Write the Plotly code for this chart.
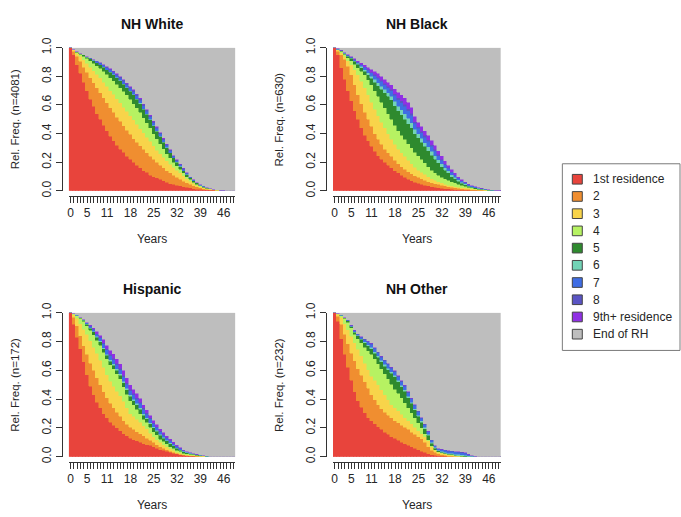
import plotly.graph_objects as go

W, H = 681, 517

# ---------------- data ----------------
years = list(range(50))
x_tick_labels = [0, 5, 11, 18, 25, 32, 39, 46]
y_ticks = [0.0, 0.2, 0.4, 0.6, 0.8, 1.0]

state_names = ["1st residence", "2", "3", "4", "5", "6", "7", "8",
               "9th+ residence", "End of RH"]
state_colors = ["#E8443C", "#F08E30", "#F8D44A", "#B6F262", "#2E8A2E",
                "#72D3B6", "#3F6DE4", "#5A54C4", "#9030E4", "#BEBEBE"]

panel_titles = ["NH White", "NH Black", "Hispanic", "NH Other"]
panel_n = [4081, 630, 172, 232]

# Cumulative upper edge (in %) of each state layer, states 1..9, per year.
white_1 = [100,95,88,82,76,70,64,59,54,50, 46,42,38,35,32,29,27,24,22,20, 18,16,14,13,11,10,9,8,7,6, 5,4.5,4,3.5,3,2.5,2,1.5,1.2,1, 0.8,0.6,0.4,0.3,0.2,0.1,0,0,0,0]
white_2 = [100,97.5,94,90.5,86.5,83,79,75.5,72,68.5, 65,61.5,58,55,51.5,48.5,45.5,42.5,39.5,36.5, 34,31.5,29,26.5,24,22,20,18,16,14, 12.5,11,9.5,8,6.8,5.5,4.5,3.6,2.8,2.1, 1.6,1.2,0.8,0.6,0.4,0.2,0.1,0,0,0]
white_3 = [100,98.5,96,94,91.5,89,86.5,84,81.5,79, 76,73,70,67.5,64.5,61.5,58.5,55.5,52.5,49.5, 46.5,43.5,40.5,37.5,34.5,31.5,28.5,26,23.5,21, 18.5,16.5,14.5,12.5,10.5,8.5,6.8,5.3,4,3, 2.2,1.6,1.1,0.8,0.5,0.3,0.2,0.1,0,0]
white_4 = [100,99,97,95.5,94,92.5,91,89,87.5,85.5, 83.5,81.5,79,77,74.5,72,69.5,67,64,61, 58,55,51,47.5,44,40,36.5,33,29.5,26, 23,20,17.5,15,12.5,10,8,6,4.7,3.5, 2.6,1.9,1.3,0.9,0.6,0.3,0.2,0.1,0,0]
white_5 = [100,99,97.5,96,95,93.5,92.5,91,89.5,88, 86.5,84.5,83,81,79,77,74.5,72,69.5,67, 64,61,57,53.5,49.5,45.5,41.5,38,34,30, 26.5,23,20,17,14,11.5,9,7,5.5,4, 3,2.2,1.5,1,0.7,0.4,0.2,0.1,0,0]
white_6 = [100,99,97.5,96,95,93.55,92.55,91.1,89.65,88.2, 86.7,84.75,83.25,81.3,79.3,77.3,74.85,72.35,69.85,67.4, 64.4,61.4,57.4,53.85,49.85,45.85,41.85,38.3,34.3,30.3, 26.75,23.2,20.2,17.2,14.2,11.65,9.1,7.1,5.55,4.05, 3.05,2.23,1.53,1.02,0.71,0.41,0.21,0.11,0.01,0]
white_7 = [100,99,97.5,96,95,93.8,92.8,91.6,90.4,89.2, 87.7,86,84.5,82.8,80.8,78.8,76.6,74.1,71.6,69.4, 66.4,63.4,59.4,55.6,51.6,47.6,43.6,39.8,35.8,31.8, 28,24.2,21.2,18.2,15.2,12.4,9.6,7.6,5.8,4.3, 3.3,2.38,1.68,1.12,0.76,0.46,0.26,0.16,0.06,0]
white_8 = [100,99,97.5,96,95,93.9,92.9,91.85,90.8,89.7, 88.2,86.6,85.1,83.55,81.55,79.55,77.5,75,72.5,70.4, 67.4,64.4,60.4,56.5,52.5,48.5,44.5,40.55,36.55,32.55, 28.6,24.7,21.7,18.7,15.7,12.8,9.85,7.85,5.9,4.4, 3.4,2.45,1.75,1.17,0.79,0.49,0.29,0.19,0.09,0]
white_9 = [100,99,97.5,96,95,94,93,92,91,90, 88.5,87,85.5,84,82,80,78,75.5,73,71, 68,65,61,57,53,49,45,41,37,33, 29,25,22,19,16,13,10,8,6,4.5, 3.5,2.5,1.8,1.2,0.8,0.5,0.3,0.2,0.1,0]

black_1 = [100,95,86,78,70,63,56,50,44,39, 35,31,27.5,24.5,22,20,18,16,14,12.5, 11,9.5,8,7,6,5.2,4.5,4,3.5,3, 2.6,2.2,1.9,1.6,1.3,1.1,0.9,0.7,0.5,0.4, 0.3,0.2,0.1,0,0,0,0,0,0,0]
black_2 = [100,97.5,95,92,87,81,74,67,61,55, 50,45,40,36,32.5,29,26.5,24,21.5,19, 17,15,13.5,12,10.5,9.5,8.5,7.5,6.5,5.5, 5,4.5,4,3.5,3,2.6,2.2,1.8,1.5,1.2, 1,0.8,0.6,0.4,0.3,0.2,0.1,0,0,0]
black_3 = [100,98.5,96.5,94,91,88,84.5,81,76.5,72, 67,62,57,52.5,48,44,40,36,32.5,29, 26.5,24,21.5,19,16.5,14.5,13,11.5,10,8.5, 7.5,6.5,5.5,4.7,4,3.5,3,2.6,2.3,2, 1.7,1.4,1.1,0.8,0.6,0.4,0.25,0.1,0,0]
black_4 = [100,99,97.5,95.5,93,91,88.5,86,83.5,81, 77.5,74,70,66,62,58,54,50,46,42, 39,36,33,30,27,24.5,22,19.5,17,14.5, 12.5,11,9.5,8.5,7.5,6.5,5.5,4.7,3.9,3.2, 2.6,2.1,1.6,1.2,0.9,0.6,0.4,0.2,0.1,0]
black_5 = [100,99,97.8,96,94,92.5,90.5,88.5,86,83.5, 81,78.5,76,73.5,71,68.5,66,63.5,59.5,56, 53,50,47,44,40,37,34,31,28,25, 22,19.5,17,14.5,12.5,10,8.3,6.8,5.3,4.2, 3.3,2.6,2,1.5,1.1,0.8,0.5,0.3,0.15,0.05]
black_6 = [100,99.1,98,96.2,94.4,92.9,91,89.1,86.9,84.6, 82.4,80.1,77.9,75.6,73.2,70.9,68.5,66.1,62.5,59.25, 56.5,53.75,50.75,47.6,43,39.75,36.75,33.75,30.75,27.6, 24.5,21.6,18.9,16.1,13.9,11.25,9.35,7.6,6,4.8, 3.7,2.95,2.3,1.75,1.3,0.95,0.65,0.4,0.25,0.1]
black_7 = [100,99.3,98.2,96.6,94.9,93.4,91.7,90,88.1,86.2, 84.3,82.4,80.5,78.6,76.4,74.2,72,69.8,66.7,63.8, 61.4,59,56,52.7,47.2,43.6,40.6,37.6,34.6,31.3, 28,24.6,21.5,18.4,15.8,13,10.8,8.7,6.9,5.6, 4.3,3.45,2.7,2.1,1.6,1.2,0.85,0.6,0.35,0.2]
black_8 = [100,99.35,98.3,96.7,95.1,93.6,91.9,90.2,88.5,86.7, 84.8,83,81.3,79.5,77.3,75.2,73,70.9,67.9,65.1, 62.8,60.5,57.5,54.2,48.4,44.7,41.7,38.7,35.7,32.35, 29,25.45,22.25,19.05,16.35,13.5,11.25,9.05,7.2,5.85, 4.5,3.6,2.85,2.2,1.7,1.3,0.9,0.65,0.4,0.22]
black_9 = [100,99.5,98.5,97,95.5,94,92.5,91,89.5,88, 86.5,85,83.5,82,80,78,76,74,71.5,69, 67,65,62,58.5,52,48,45,42,39,35.5, 32,28,24.5,21,18,15,12.5,10,8,6.5, 5,4,3.2,2.5,2,1.5,1.1,0.8,0.5,0.3]

hisp_1 = [100,92,83,75,66,57,49,43,38,34, 30,27,24,22,20,18,16,14.5,13,12, 11,10,9,8.5,8,7,6,5,4.5,4, 3,2.5,2,1.5,1,0.7,0.5,0.3,0.2,0.1, 0,0,0,0,0,0,0,0,0,0]
hisp_2 = [100,97,91,84,77,71,65,60,55,50, 45,41,37,34,31,28,25,22.5,20.5,19, 17.5,16,14.5,13,11.5,10,8.5,7,6,5, 4,3.2,2.5,1.9,1.4,1,0.8,0.6,0.4,0.3, 0.2,0.1,0,0,0,0,0,0,0,0]
hisp_3 = [100,98.5,96,92.5,88.5,85,80.5,76,72,67, 62,57,52.5,49,45.5,42.5,38.5,34,30,28, 26,24,21.5,19.5,16.5,14,12,10,8.5,7, 5.5,4.5,3.3,2.6,1.9,1.5,1.2,1,0.7,0.5, 0.4,0.2,0,0,0,0,0,0,0,0]
hisp_4 = [100,99.5,98,96,94,91,87.8,84.7,81,77.4, 72.6,67.9,63.9,61.2,57.5,54,48.5,43.5,39,36, 33,30,26,23.9,20.5,17.5,15.2,12.3,10.9,9, 7.1,6.1,4.5,3.7,2.6,2.1,1.6,1.3,1,0.7, 0.6,0.3,0,0,0,0,0,0,0,0]
hisp_5 = [100,99.5,98.3,96.5,94.7,92,89.3,86.7,83,79.9, 75.1,70.4,66.4,63.7,60,56.5,51.5,46.5,42,39, 36,33,29,26.4,23,20,17.7,14.8,12.9,11, 9.1,7.6,6,4.7,3.6,2.9,2.2,1.8,1.4,1.1, 0.9,0.5,0,0,0,0,0,0,0,0]
hisp_6 = [100,99.5,98.3,96.7,95,92.3,89.7,87.2,83.5,80.5, 75.8,71.2,67.2,64.5,61,57.5,52.5,47.5,43,40, 37,34,30,27.2,23.8,20.8,18.4,15.5,13.5,11.5, 9.6,8,6.4,5,3.9,3.1,2.4,2,1.6,1.2, 1,0.5,0,0,0,0,0,0,0,0]
hisp_7 = [100,99.5,98.5,97,95.5,93,90.7,88.4,85,82.5, 78.3,74.2,70.2,67.5,64,60.5,55.5,50.5,46,43, 40,37,33,29.7,26.3,22.8,20.4,17.5,15,13, 11.1,9.2,7.4,5.8,4.5,3.5,2.7,2.2,1.8,1.3, 1.1,0.6,0,0,0,0,0,0,0,0]
hisp_8 = [100,99.5,98.5,97,95.5,93.2,91,88.7,85.5,83, 79,75,71,68.5,65,61.5,56.5,51.5,47,44, 41,38,34,30.5,27,23.5,21,18,15.5,13.5, 11.5,9.5,7.7,6,4.7,3.6,2.8,2.3,1.9,1.4, 1.1,0.6,0,0,0,0,0,0,0,0]
hisp_9 = [100,99.5,98.5,97,95.5,93.5,91.5,89.5,87,84.5, 81.5,77.5,74,71.5,68,64.5,60,55,50,47, 44,40.5,36,32.5,29,25.5,22.5,19.5,17,14.5, 12.5,10.5,8.5,6.5,5,3.8,3,2.5,2,1.5, 1.2,0.6,0,0,0,0,0,0,0,0]

other_1 = [100,94,82,71,62,53,45,39,34.5,30.5, 27,25,23,21,19,17,15.5,14,13,11.5, 10,9,8,7,6,5,4,3,2,1.5, 1,0.7,0.5,0.3,0.2,0.1,0,0,0,0, 0,0,0,0,0,0,0,0,0,0]
other_2 = [100,97.5,92,85,78.5,72,66.5,61,56.5,52, 47.5,43,39.5,36,33.5,31,29,27,25,23.5, 22,20.5,19,17,15.5,14,12.5,10,7,4.5, 3,2,1.5,1,0.5,0.3,0.1,0,0,0, 0,0,0,0,0,0,0,0,0,0]
other_3 = [100,99,97,92.5,88,83.5,79,74.5,70,65, 60.5,56,53,50,46.5,43,39.5,36,34,32, 29.5,27,25,23,20.5,18,16,14,11,7, 4.5,3,2.5,2,1.5,1,0.7,0.5,0.3,0.1, 0,0,0,0,0,0,0,0,0,0]
other_4 = [100,99.3,98,96,93.5,89.5,85,82,79,76, 73.5,71,68,64.5,61,57.5,54,50.5,47,44, 41,37.5,34,30.5,27,23.5,20,16,12,7.5, 5,3.5,2.7,2.2,1.7,1.3,1,0.7,0.5,0.2, 0.1,0,0,0,0,0,0,0,0,0]
other_5 = [100,99.5,98.3,96.5,94.3,90.5,86.5,84,81.5,79, 77,75,72,69,66,63,60.5,58,55.5,52, 48.5,45.5,41,37,32.5,28,24,19.5,15,9.5, 6,4.2,3.2,2.6,2,1.6,1.2,0.9,0.6,0.3, 0.2,0.1,0,0,0,0,0,0,0,0]
other_6 = [100,99.5,98.35,96.6,94.5,90.75,86.9,84.4,82,79.75, 77.9,76,73,70,67,64.1,61.6,59.1,56.6,53.1, 49.6,46.6,42.1,38,33.5,29,24.9,20.4,15.75,10.1, 6.5,4.65,3.8,3.2,2.6,2.3,1.9,1.6,1.3,1, 0.6,0.3,0.1,0,0,0,0,0,0,0]
other_7 = [100,99.5,98.45,96.9,94.9,91.3,87.7,85.2,83.1,81.4, 79.8,78.2,75.2,72.2,69.2,66.6,64.1,61.6,59.1,55.6, 52.1,49.1,44.6,40.2,35.7,31.2,26.8,22.3,17.4,11.5, 7.6,5.6,5,4.5,4,3.8,3.45,3.2,2.9,2.5, 1.6,0.8,0.4,0,0,0,0,0,0,0]
other_8 = [100,99.5,98.48,96.98,94.97,91.45,87.9,85.4,83.4,81.85, 80.3,78.8,75.8,72.8,69.8,67.3,64.8,62.3,59.8,56.3, 52.8,49.8,45.3,40.8,36.3,31.8,27.3,22.8,17.85,11.9, 7.9,5.9,5.35,4.85,4.4,4.2,3.85,3.65,3.35,2.85, 1.9,0.95,0.48,0,0,0,0,0,0,0]
other_9 = [100,99.5,98.5,97,95,91.5,88,85.5,83.5,82, 80.5,79,76,73,70,67.5,65,62.5,60,56.5, 53,50,45.5,41,36.5,32,27.5,23,18,12, 8,6,5.5,5,4.5,4.3,4,3.8,3.5,3, 2,1,0.5,0,0,0,0,0,0,0]

panels_cum = [
    [white_1, white_2, white_3, white_4, white_5, white_6, white_7, white_8, white_9],
    [black_1, black_2, black_3, black_4, black_5, black_6, black_7, black_8, black_9],
    [hisp_1, hisp_2, hisp_3, hisp_4, hisp_5, hisp_6, hisp_7, hisp_8, hisp_9],
    [other_1, other_2, other_3, other_4, other_5, other_6, other_7, other_8, other_9],
]

# ---------------- layout (pixel boxes of plot areas) ----------------
boxes = [(67, 234, 39, 187), (332, 500, 39, 187),
         (67, 234, 313, 462), (332, 500, 313, 462)]
FONT = "Liberation Sans, Arial, sans-serif"
TXT = "#262626"

fig = go.Figure()
annotations = []
shapes = []

for i, cums in enumerate(panels_cum):
    sfx = "" if i == 0 else str(i + 1)
    tops = [[v / 100.0 for v in c] for c in cums] + [[1.0] * len(years)]
    prev = [0.0] * len(years)
    for k, top in enumerate(tops):
        share = [max(0.0, t - p) for t, p in zip(top, prev)]
        fig.add_trace(go.Bar(
            x=years, y=share, width=1,
            marker=dict(color=state_colors[k],
                        line=dict(width=0.5, color=state_colors[k])),
            name=state_names[k], showlegend=False,
            xaxis="x" + sfx, yaxis="y" + sfx, hoverinfo="skip"))
        prev = [max(t, p) for t, p in zip(top, prev)]

    x0, x1, y0, y1 = boxes[i]
    fig.layout["xaxis" + sfx] = dict(
        domain=[x0 / W, x1 / W], range=[-0.5, len(years) - 0.5],
        anchor="free", position=1 - (y1 + 5) / H,
        tickmode="array", tickvals=years,
        ticktext=[str(y) if y in x_tick_labels else "" for y in years],
        ticks="outside", ticklen=6, tickwidth=1, tickcolor="#333",
        showline=True, linecolor="#333", linewidth=1,
        showgrid=False, zeroline=False, fixedrange=True,
        tickfont=dict(family=FONT, size=12, color=TXT))
    fig.layout["yaxis" + sfx] = dict(
        domain=[1 - y1 / H, 1 - y0 / H], range=[0, 1],
        anchor="free", position=(x0 - 7) / W,
        tickmode="array", tickvals=y_ticks,
        ticktext=["%.1f" % v for v in y_ticks], tickangle=-90,
        ticks="outside", ticklen=6, tickwidth=1, tickcolor="#333",
        showline=True, linecolor="#333", linewidth=1,
        showgrid=False, zeroline=False, fixedrange=True,
        tickfont=dict(family=FONT, size=12, color=TXT))

    cx = (x0 + x1) / 2 / W
    annotations.append(dict(text="<b>%s</b>" % panel_titles[i], x=cx, y=1 - (y0 - 25) / H,
                            xref="paper", yref="paper", showarrow=False,
                            font=dict(family=FONT, size=14, color="#111"),
                            xanchor="center", yanchor="middle"))
    annotations.append(dict(text="Years", x=cx, y=1 - (y1 + 50) / H,
                            xref="paper", yref="paper", showarrow=False,
                            font=dict(family=FONT, size=12, color=TXT),
                            xanchor="center", yanchor="middle"))
    annotations.append(dict(text="Rel. Freq. (n=%d)" % panel_n[i],
                            x=(x0 - 54) / W, y=1 - (y0 + y1) / 2 / H,
                            xref="paper", yref="paper", showarrow=False, textangle=-90,
                            font=dict(family=FONT, size=11.5, color=TXT),
                            xanchor="center", yanchor="middle"))

# ---------------- legend (drawn box) ----------------
lx0, lx1, ly0, ly1 = 562, 680, 159, 352
shapes.append(dict(type="rect", xref="paper", yref="paper",
                   x0=lx0 / W, x1=lx1 / W, y0=1 - ly1 / H, y1=1 - ly0 / H,
                   line=dict(color="#7a7a7a", width=1), fillcolor="white", layer="below"))
for k, name in enumerate(state_names):
    cy = 175 + k * 17.8
    shapes.append(dict(type="rect", xref="paper", yref="paper",
                       x0=572 / W, x1=582 / W, y0=1 - (cy + 5) / H, y1=1 - (cy - 5) / H,
                       line=dict(color="#444", width=1), fillcolor=state_colors[k]))
    annotations.append(dict(text=name, x=591 / W, y=1 - cy / H, xref="paper", yref="paper",
                            showarrow=False, xanchor="left", yanchor="middle",
                            font=dict(family=FONT, size=12, color=TXT)))

fig.update_layout(
    width=W, height=H, margin=dict(l=0, r=0, t=0, b=0),
    paper_bgcolor="white", plot_bgcolor="white",
    barmode="stack", bargap=0, showlegend=False,
    annotations=annotations, shapes=shapes,
)

fig.write_html("out.html",
               config={"displayModeBar": False, "staticPlot": True},
               post_script="document.body.style.margin='0';"
                           "document.body.style.overflow='hidden';")
